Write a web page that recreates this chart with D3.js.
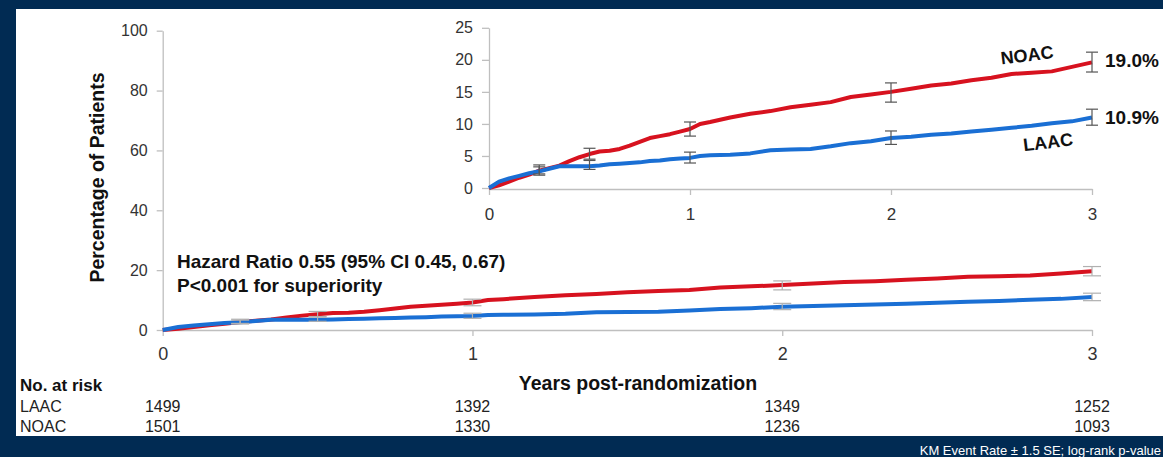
<!DOCTYPE html>
<meta charset="utf-8">
<style>
body { margin: 0; background: #012b53; }
text { font-family: Arial, "Liberation Sans", sans-serif; }
.axis path, .axis line { stroke: #bfbfbf; stroke-width: 1.3; }
.axis text { fill: #333; }
</style>
<svg width="1163" height="457"></svg>
<script src="https://cdn.jsdelivr.net/npm/d3@7"></script>
<script>

// KM event rate (%)
var years = [0, 0.05, 0.1, 0.15, 0.2, 0.25, 0.3, 0.35, 0.4, 0.45, 0.5, 0.55, 0.6, 0.65, 0.7, 0.75, 0.8, 0.85, 0.9, 0.95,
             1.0, 1.05, 1.1, 1.2, 1.3, 1.4, 1.5, 1.6, 1.7, 1.8, 1.9, 2.0, 2.1, 2.2, 2.3, 2.4, 2.5, 2.6, 2.7, 2.8, 2.9, 3.0];
var noac = [0, 0.4, 1.0, 1.6, 2.1, 2.7, 3.1, 3.5, 4.2, 4.8, 5.3, 5.7, 5.8, 6.1, 6.6, 7.2, 7.8, 8.1, 8.4, 8.8,
            9.2, 10.0, 10.3, 11.0, 11.6, 12.0, 12.6, 13.0, 13.4, 14.2, 14.6, 15.0, 15.5, 16.0, 16.3, 16.8, 17.2, 17.8, 18.0, 18.2, 18.9, 19.6];
var laac = [0, 1.0, 1.5, 1.9, 2.3, 2.6, 3.0, 3.4, 3.4, 3.4, 3.4, 3.5, 3.7, 3.8, 3.9, 4.0, 4.2, 4.3, 4.5, 4.6,
            4.7, 5.0, 5.1, 5.2, 5.4, 5.9, 6.0, 6.1, 6.5, 7.0, 7.3, 7.8, 8.0, 8.3, 8.5, 8.8, 9.1, 9.4, 9.7, 10.1, 10.4, 11.0];

// error bars: [year, low, high]
var noacErr = [[0.25, 2.2, 3.6], [0.5, 4.5, 6.2], [1, 8.1, 10.3], [2, 13.4, 16.4], [3, 18.1, 21.2]];
var laacErr = [[0.25, 2.0, 3.3], [0.5, 2.9, 4.3], [1, 3.9, 5.6], [2, 6.8, 8.9], [3, 9.8, 12.3]];

var riskYears = [0, 1, 2, 3];
var riskLaac = [1499, 1392, 1349, 1252];
var riskNoac = [1501, 1330, 1236, 1093];

var red = "#d7121f", blue = "#1a6fd4";

var svg = d3.select("svg");

svg.append("rect").attr("width", 1163).attr("height", 457).attr("fill", "#012b53");
svg.append("rect").attr("x", 16).attr("y", 9).attr("width", 1147).attr("height", 427).attr("fill", "#fff");

// main chart
var x = d3.scaleLinear().domain([0, 3]).range([162.7, 1092]);
var y = d3.scaleLinear().domain([0, 100]).range([330, 30.7]);

svg.append("g").attr("class", "axis")
    .attr("transform", "translate(" + x(0) + ",0)")
    .call(d3.axisLeft(y).tickValues([0, 20, 40, 60, 80, 100]).tickSize(6).tickSizeOuter(0).tickPadding(9))
    .selectAll("text").style("font-size", "16px");

svg.append("g").attr("class", "axis")
    .attr("transform", "translate(0," + y(0) + ")")
    .call(d3.axisBottom(x).tickValues([0, 1, 2, 3]).tickFormat(d3.format("d")).tickSize(6).tickSizeOuter(0).tickPadding(11))
    .selectAll("text").style("font-size", "18px");

function drawCurves(g, xs, ys, capW, errColor, lw) {
  var line = d3.line().x(function(d, i) { return xs(years[i]); }).y(function(d) { return ys(d); });
  [[noac, noacErr, red], [laac, laacErr, blue]].forEach(function(s) {
    g.append("path").datum(s[0])
      .attr("d", line).attr("fill", "none")
      .attr("stroke", s[2]).attr("stroke-width", lw).attr("stroke-linejoin", "round");
  });
  [noacErr, laacErr].forEach(function(err) {
    var eb = g.selectAll(null).data(err).enter().append("g")
      .attr("stroke", errColor).attr("stroke-width", 1.2);
    eb.append("line").attr("x1", function(d) { return xs(d[0]); }).attr("x2", function(d) { return xs(d[0]); })
      .attr("y1", function(d) { return ys(d[1]); }).attr("y2", function(d) { return ys(d[2]); });
    eb.append("line").attr("x1", function(d) { return xs(d[0]) - capW / 2; }).attr("x2", function(d) { return xs(d[0]) + capW / 2; })
      .attr("y1", function(d) { return ys(d[1]); }).attr("y2", function(d) { return ys(d[1]); });
    eb.append("line").attr("x1", function(d) { return xs(d[0]) - capW / 2; }).attr("x2", function(d) { return xs(d[0]) + capW / 2; })
      .attr("y1", function(d) { return ys(d[2]); }).attr("y2", function(d) { return ys(d[2]); });
  });
}

drawCurves(svg.append("g"), x, y, 18, "#b0b0b0", 4);

svg.append("text")
    .attr("transform", "translate(97,177.5) rotate(-90)")
    .attr("text-anchor", "middle").attr("dy", "0.35em")
    .style("font-size", "19.5px").style("font-weight", "bold").attr("fill", "#111")
    .text("Percentage of Patients");

svg.append("text").attr("x", 638).attr("y", 383).attr("dy", "0.35em")
    .attr("text-anchor", "middle")
    .style("font-size", "19.5px").style("font-weight", "bold").attr("fill", "#111")
    .text("Years post-randomization");

svg.append("text").attr("x", 177).attr("y", 261.7).attr("dy", "0.35em")
    .style("font-size", "19px").style("font-weight", "bold").attr("fill", "#111")
    .text("Hazard Ratio 0.55 (95% CI 0.45, 0.67)");
svg.append("text").attr("x", 177).attr("y", 285).attr("dy", "0.35em")
    .style("font-size", "19px").style("font-weight", "bold").attr("fill", "#111")
    .text("P<0.001 for superiority");

// inset
var xi = d3.scaleLinear().domain([0, 3]).range([489, 1092]);
var yi = d3.scaleLinear().domain([0, 25]).range([188, 27.8]);

svg.append("g").attr("class", "axis")
    .attr("transform", "translate(" + xi(0) + ",0)")
    .call(d3.axisLeft(yi).tickValues([0, 5, 10, 15, 20, 25]).tickSize(7).tickSizeOuter(0).tickPadding(9))
    .selectAll("text").style("font-size", "16px");

svg.append("g").attr("class", "axis")
    .attr("transform", "translate(0," + (yi(0) + 1) + ")")
    .call(d3.axisBottom(xi).tickValues([0, 1, 2, 3]).tickFormat(d3.format("d")).tickSize(6).tickSizeOuter(0).tickPadding(13))
    .selectAll("text").style("font-size", "17px");

drawCurves(svg.append("g"), xi, yi, 12, "#555", 4);

svg.append("text").attr("transform", "translate(1027,55) rotate(-7)")
    .attr("text-anchor", "middle").attr("dy", "0.35em")
    .style("font-size", "18px").style("font-weight", "bold").attr("fill", "#111").text("NOAC");
svg.append("text").attr("transform", "translate(1048,142) rotate(-7)")
    .attr("text-anchor", "middle").attr("dy", "0.35em")
    .style("font-size", "18px").style("font-weight", "bold").attr("fill", "#111").text("LAAC");
svg.append("text").attr("x", 1105).attr("y", 60.7).attr("dy", "0.35em")
    .style("font-size", "19px").style("font-weight", "bold").attr("fill", "#111").text("19.0%");
svg.append("text").attr("x", 1105).attr("y", 117.3).attr("dy", "0.35em")
    .style("font-size", "19px").style("font-weight", "bold").attr("fill", "#111").text("10.9%");

// number at risk
svg.append("text").attr("x", 20).attr("y", 385).attr("dy", "0.35em")
    .style("font-size", "17px").style("font-weight", "bold").attr("fill", "#111").text("No. at risk");

[["LAAC", riskLaac, 406.5], ["NOAC", riskNoac, 426.5]].forEach(function(r) {
  svg.append("text").attr("x", 20).attr("y", r[2]).attr("dy", "0.35em")
      .style("font-size", "16px").attr("fill", "#222").text(r[0]);
  svg.selectAll(null).data(r[1]).enter().append("text")
      .attr("x", function(d, i) { return x(riskYears[i]); })
      .attr("y", r[2]).attr("dy", "0.35em").attr("text-anchor", "middle")
      .style("font-size", "16px").attr("fill", "#222")
      .text(function(d) { return d; });
});

svg.append("text").attr("x", 1161).attr("y", 450).attr("dy", "0.35em")
    .attr("text-anchor", "end")
    .style("font-size", "13px").attr("fill", "#fff")
    .text("KM Event Rate \u00b1 1.5 SE; log-rank p-value");

</script>
